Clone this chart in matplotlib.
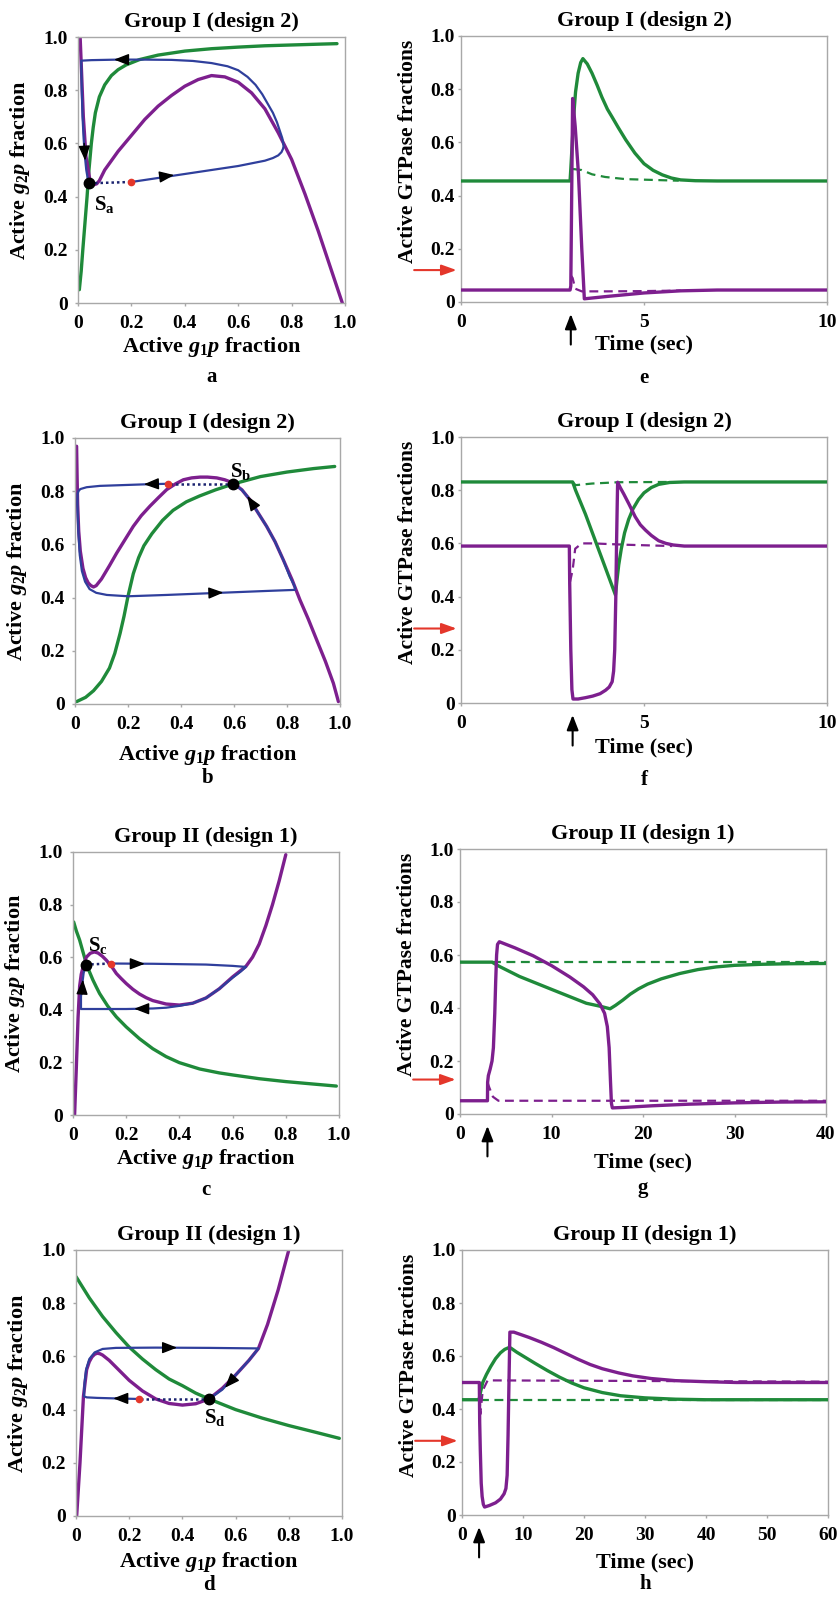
import matplotlib
matplotlib.use("Agg")
import matplotlib.pyplot as plt

plt.rcParams['font.family'] = ['Liberation Serif', 'DejaVu Serif']
plt.rcParams['font.weight'] = 'bold'
plt.rcParams['mathtext.fontset'] = 'custom'
plt.rcParams['mathtext.rm'] = 'Liberation Serif:bold'
plt.rcParams['mathtext.it'] = 'Liberation Serif:italic:bold'
plt.rcParams['mathtext.bf'] = 'Liberation Serif:bold'

GREEN = '#1f8a3a'
PURPLE = '#7d1f8e'
BLUE = '#2f3f9c'
NAVY = '#1c2470'
RED = '#e4372b'
SPINE = '#a8a8a8'

# ---------------- Panel a (phase plane, Group I design 2) ----------------
a_green_x = [0.005, 0.012, 0.018, 0.026, 0.034, 0.041, 0.05, 0.057, 0.065, 0.08, 0.1, 0.125, 0.15, 0.18, 0.23, 0.3, 0.4, 0.5, 0.6, 0.7, 0.8, 0.9, 0.97]
a_green_y = [0.05, 0.12, 0.2, 0.3, 0.4, 0.5, 0.6, 0.66, 0.715, 0.775, 0.82, 0.855, 0.877, 0.895, 0.915, 0.932, 0.947, 0.956, 0.962, 0.967, 0.97, 0.973, 0.975]
a_purple_x = [0.008, 0.012, 0.02, 0.03, 0.045, 0.06, 0.07, 0.08, 0.1, 0.15, 0.2, 0.25, 0.3, 0.35, 0.4, 0.45, 0.5, 0.55, 0.6, 0.65, 0.7, 0.75, 0.77, 0.8, 0.85, 0.9, 0.95, 0.99]
a_purple_y = [1.0, 0.9, 0.7, 0.55, 0.46, 0.445, 0.448, 0.46, 0.5, 0.57, 0.63, 0.69, 0.74, 0.78, 0.815, 0.84, 0.855, 0.85, 0.83, 0.79, 0.73, 0.64, 0.6, 0.54, 0.41, 0.27, 0.12, 0.0]
a_blue_x = [0.2, 0.3, 0.4, 0.5, 0.6, 0.7, 0.73, 0.75, 0.762, 0.768, 0.77, 0.765, 0.755, 0.745, 0.73, 0.71, 0.69, 0.665, 0.635, 0.6, 0.56, 0.5, 0.43, 0.35, 0.25, 0.15, 0.05, 0.012, 0.014, 0.017, 0.021, 0.026, 0.031, 0.037, 0.043]
a_blue_y = [0.455, 0.47, 0.485, 0.5, 0.515, 0.535, 0.545, 0.555, 0.567, 0.58, 0.59, 0.62, 0.65, 0.68, 0.715, 0.75, 0.785, 0.82, 0.85, 0.875, 0.89, 0.902, 0.91, 0.914, 0.915, 0.915, 0.913, 0.911, 0.8, 0.7, 0.62, 0.55, 0.5, 0.465, 0.45]
a_fixed = (0.043, 0.45)
a_kick = (0.2, 0.455)
a_arrows = [((0.33, 0.477), (0.36, 0.481)), ((0.165, 0.915), (0.135, 0.915)), ((0.023, 0.6), (0.027, 0.535))]
a_label = ('a', (0.06, 0.37))

# ---------------- Panel b ----------------
b_green_x = [0.006, 0.04, 0.07, 0.1, 0.13, 0.15, 0.17, 0.185, 0.2, 0.22, 0.24, 0.26, 0.29, 0.33, 0.37, 0.42, 0.47, 0.53, 0.6, 0.7, 0.8, 0.9, 0.98]
b_green_y = [0.009, 0.025, 0.05, 0.085, 0.135, 0.19, 0.265, 0.33, 0.405, 0.49, 0.55, 0.595, 0.64, 0.69, 0.728, 0.76, 0.782, 0.805, 0.828, 0.855, 0.872, 0.885, 0.893]
b_purple_x = [0.006, 0.008, 0.01, 0.014, 0.02, 0.03, 0.04, 0.05, 0.06, 0.07, 0.08, 0.1, 0.13, 0.157, 0.19, 0.22, 0.25, 0.283, 0.315, 0.346, 0.38, 0.409, 0.44, 0.472, 0.5, 0.535, 0.565, 0.597, 0.63, 0.66, 0.69, 0.723, 0.755, 0.786, 0.82, 0.849, 0.88, 0.912, 0.945, 0.975, 0.994]
b_purple_y = [0.969, 0.85, 0.75, 0.65, 0.575, 0.51, 0.475, 0.455, 0.445, 0.44, 0.445, 0.47, 0.52, 0.567, 0.62, 0.668, 0.708, 0.744, 0.776, 0.806, 0.828, 0.843, 0.85, 0.853, 0.853, 0.85, 0.843, 0.831, 0.805, 0.768, 0.72, 0.668, 0.61, 0.542, 0.465, 0.391, 0.32, 0.241, 0.16, 0.078, 0.009]
b_blue_x = [0.352, 0.27, 0.094, 0.044, 0.02, 0.013, 0.01, 0.009, 0.01, 0.013, 0.018, 0.026, 0.038, 0.055, 0.08, 0.12, 0.2, 0.346, 0.547, 0.723, 0.83, 0.83, 0.81, 0.786, 0.755, 0.723, 0.69, 0.66, 0.63, 0.597]
b_blue_y = [0.828, 0.826, 0.82, 0.815, 0.808, 0.8, 0.79, 0.76, 0.72, 0.64, 0.56, 0.5, 0.46, 0.432, 0.418, 0.41, 0.405, 0.41, 0.418, 0.425, 0.429, 0.44, 0.48, 0.542, 0.61, 0.668, 0.72, 0.768, 0.805, 0.828]
b_fixed = (0.597, 0.828)
b_kick = (0.352, 0.828)
b_arrows = [((0.29, 0.827), (0.26, 0.826)), ((0.53, 0.418), (0.56, 0.419)), ((0.67, 0.752), (0.65, 0.782))]
b_label = ('b', (0.585, 0.875))

# ---------------- Panel c ----------------
c_green_x = [0.0025, 0.0125, 0.025, 0.0375, 0.05, 0.0625, 0.075, 0.0875, 0.1, 0.13, 0.163, 0.2, 0.25, 0.3, 0.35, 0.4, 0.476, 0.55, 0.602, 0.7, 0.8, 0.9, 0.99]
c_green_y = [0.734, 0.7, 0.665, 0.62, 0.576, 0.543, 0.513, 0.487, 0.462, 0.415, 0.373, 0.335, 0.29, 0.252, 0.222, 0.199, 0.175, 0.16, 0.152, 0.138, 0.127, 0.118, 0.11]
c_purple_x = [0.006, 0.0125, 0.019, 0.025, 0.031, 0.038, 0.05, 0.065, 0.08, 0.094, 0.11, 0.125, 0.145, 0.163, 0.18, 0.2, 0.225, 0.25, 0.275, 0.3, 0.35, 0.4, 0.45, 0.5, 0.55, 0.6, 0.65, 0.675, 0.7, 0.725, 0.75, 0.775, 0.8]
c_purple_y = [0.0, 0.18, 0.37, 0.49, 0.535, 0.563, 0.6, 0.615, 0.62, 0.616, 0.604, 0.589, 0.565, 0.538, 0.52, 0.5, 0.478, 0.46, 0.446, 0.435, 0.422, 0.418, 0.425, 0.445, 0.48, 0.525, 0.565, 0.6, 0.65, 0.72, 0.8, 0.89, 0.99]
c_blue_x = [0.144, 0.3, 0.5, 0.6, 0.65, 0.63, 0.6, 0.55, 0.5, 0.45, 0.4, 0.35, 0.3, 0.2, 0.1, 0.03, 0.03, 0.035, 0.04, 0.048]
c_blue_y = [0.576, 0.575, 0.572, 0.567, 0.563, 0.545, 0.522, 0.48, 0.445, 0.425, 0.415, 0.408, 0.405, 0.403, 0.403, 0.403, 0.45, 0.5, 0.54, 0.572]
c_fixed = (0.048, 0.572)
c_kick = (0.144, 0.576)
c_arrows = [((0.24, 0.575), (0.27, 0.575)), ((0.26, 0.404), (0.23, 0.404)), ((0.034, 0.46), (0.037, 0.515))]
c_label = ('c', (0.055, 0.645))

# ---------------- Panel d ----------------
d_green_x = [0.0, 0.05, 0.1, 0.15, 0.2, 0.25, 0.3, 0.35, 0.4, 0.45, 0.5, 0.6, 0.7, 0.8, 0.9, 0.99]
d_green_y = [0.9, 0.82, 0.75, 0.69, 0.635, 0.59, 0.55, 0.515, 0.49, 0.462, 0.44, 0.4, 0.368, 0.34, 0.315, 0.292]
d_purple_x = [0.0025, 0.015, 0.028, 0.04, 0.05, 0.06, 0.07, 0.08, 0.09, 0.1, 0.125, 0.15, 0.175, 0.2, 0.25, 0.3, 0.35, 0.4, 0.45, 0.5, 0.55, 0.6, 0.65, 0.686, 0.72, 0.76, 0.8]
d_purple_y = [0.0, 0.2, 0.45, 0.55, 0.58, 0.598, 0.608, 0.612, 0.61, 0.605, 0.585, 0.56, 0.535, 0.51, 0.47, 0.44, 0.423, 0.417, 0.422, 0.44, 0.48, 0.53, 0.585, 0.63, 0.72, 0.85, 1.0]
d_blue_x = [0.235, 0.15, 0.08, 0.04, 0.03, 0.032, 0.038, 0.05, 0.07, 0.1, 0.15, 0.3, 0.5, 0.686, 0.65, 0.6, 0.55, 0.5]
d_blue_y = [0.44, 0.442, 0.444, 0.446, 0.45, 0.5, 0.55, 0.59, 0.615, 0.628, 0.632, 0.633, 0.632, 0.63, 0.585, 0.53, 0.475, 0.44]
d_fixed = (0.5, 0.44)
d_kick = (0.235, 0.44)
d_arrows = [((0.35, 0.633), (0.38, 0.633)), ((0.17, 0.442), (0.14, 0.442)), ((0.59, 0.515), (0.56, 0.482))]
d_label = ('d', (0.48, 0.37))

# ---------------- Panel e (time course) ----------------
e_green_t = [0, 2.98, 3.0, 3.04, 3.08, 3.13, 3.2, 3.27, 3.33, 3.45, 3.58, 3.72, 3.85, 4.0, 4.13, 4.3, 4.5, 4.75, 5.0, 5.25, 5.5, 5.75, 6.0, 6.4, 7.0, 10]
e_green_y = [0.455, 0.455, 0.5, 0.6, 0.7, 0.79, 0.86, 0.9, 0.915, 0.895, 0.86, 0.815, 0.77, 0.725, 0.695, 0.655, 0.61, 0.56, 0.52, 0.495, 0.478, 0.466, 0.459, 0.456, 0.455, 0.455]
e_green_dash_t = [3.06, 3.3, 3.58, 3.94, 4.49, 5.22, 5.95]
e_green_dash_y = [0.5, 0.496, 0.48, 0.47, 0.462, 0.459, 0.456]
e_purple_t = [0, 2.98, 3.0, 3.05, 3.12, 3.21, 3.3, 3.37, 4.0, 5.0, 6.0, 7.0, 10]
e_purple_y = [0.045, 0.045, 0.06, 0.765, 0.66, 0.48, 0.2, 0.012, 0.021, 0.034, 0.042, 0.045, 0.045]
e_purple_dash_t = [3.0, 3.05, 3.12, 3.3, 4.0, 5.0, 6.0]
e_purple_dash_y = [0.1, 0.09, 0.05, 0.04, 0.04, 0.041, 0.043]
e_stim = 3.0
e_red = 0.12

# ---------------- Panel f ----------------
f_green_t = [0, 3.05, 3.13, 3.40, 3.67, 3.94, 4.22, 4.26, 4.31, 4.38, 4.47, 4.58, 4.7, 4.85, 5.0, 5.2, 5.4, 5.7, 6.1, 10]
f_green_y = [0.831, 0.831, 0.80, 0.71, 0.61, 0.51, 0.406, 0.46, 0.52, 0.58, 0.64, 0.69, 0.73, 0.765, 0.79, 0.81, 0.822, 0.829, 0.831, 0.831]
f_green_dash_t = [3.05, 3.13, 3.58, 4.31, 5.77]
f_green_dash_y = [0.831, 0.819, 0.825, 0.83, 0.831]
f_purple_t = [0, 2.96, 2.97, 3.0, 3.03, 3.06, 3.2, 3.4, 3.6, 3.8, 3.95, 4.05, 4.13, 4.17, 4.2, 4.23, 4.25, 4.27, 4.28, 4.35, 4.45, 4.6, 4.76, 4.9, 5.04, 5.2, 5.4, 5.6, 5.8, 6.1, 10]
f_purple_y = [0.59, 0.59, 0.45, 0.2, 0.05, 0.015, 0.015, 0.02, 0.026, 0.035, 0.048, 0.06, 0.08, 0.12, 0.2, 0.4, 0.6, 0.76, 0.83, 0.81, 0.785, 0.745, 0.70, 0.67, 0.65, 0.63, 0.61, 0.6, 0.594, 0.59, 0.59]
f_purple_dash_t = [2.98, 3.05, 3.12, 3.3, 3.6, 4.5, 5.77]
f_purple_dash_y = [0.456, 0.5, 0.58, 0.6, 0.6, 0.595, 0.59]
f_stim = 3.05
f_red = 0.28

# ---------------- Panel g ----------------
g_green_t = [0, 3.5, 4.3, 6.5, 10.1, 13.8, 15.4, 16.4, 17.0, 17.8, 18.6, 19.5, 20.5, 22, 24, 26, 28, 30, 33, 36, 40]
g_green_y = [0.573, 0.573, 0.557, 0.519, 0.469, 0.418, 0.406, 0.397, 0.41, 0.43, 0.452, 0.472, 0.49, 0.51, 0.53, 0.545, 0.555, 0.561, 0.565, 0.567, 0.568]
g_green_dash_t = [3.5, 40]
g_green_dash_y = [0.573, 0.573]
g_purple_t = [0, 3.0, 3.02, 3.1, 3.3, 3.5, 3.65, 3.8, 3.9, 4.0, 4.1, 4.3, 6, 8, 10, 12, 13.5, 14.5, 15.3, 15.8, 16.1, 16.3, 16.45, 16.55, 16.65, 18, 21, 25, 30, 35, 40]
g_purple_y = [0.05, 0.05, 0.12, 0.145, 0.17, 0.2, 0.25, 0.38, 0.5, 0.6, 0.64, 0.65, 0.627, 0.597, 0.56, 0.517, 0.48, 0.45, 0.415, 0.38, 0.33, 0.25, 0.12, 0.04, 0.023, 0.025, 0.031, 0.037, 0.042, 0.045, 0.046]
g_purple_dash_t = [3.0, 3.2, 3.6, 4.2, 40]
g_purple_dash_y = [0.12, 0.1, 0.065, 0.05, 0.05]
g_stim = 3.0
g_red = 0.13

# ---------------- Panel h ----------------
h_green_t = [0, 2.8, 3.0, 3.4, 4.0, 4.7, 5.5, 6.3, 7.0, 7.6, 8.0, 9, 10, 12, 14, 16, 18, 20, 23, 26, 30, 35, 40, 60]
h_green_y = [0.435, 0.435, 0.46, 0.5, 0.53, 0.56, 0.59, 0.612, 0.625, 0.631, 0.63, 0.614, 0.6, 0.572, 0.545, 0.52, 0.498, 0.48, 0.462, 0.45, 0.442, 0.437, 0.435, 0.435]
h_green_dash_t = [3.0, 60]
h_green_dash_y = [0.435, 0.435]
h_purple_t = [0, 2.84, 2.9, 3.0, 3.15, 3.3, 3.5, 3.7, 4.5, 5.5, 6.3, 6.9, 7.2, 7.4, 7.55, 7.7, 7.85, 8.5, 11, 13, 15, 17, 19, 21, 23, 25.7, 28, 31, 35, 40, 45, 60]
h_purple_y = [0.5, 0.5, 0.35, 0.245, 0.12, 0.07, 0.04, 0.03, 0.036, 0.046, 0.06, 0.08, 0.1, 0.15, 0.3, 0.5, 0.69, 0.69, 0.67, 0.652, 0.632, 0.61, 0.588, 0.568, 0.552, 0.536, 0.525, 0.515, 0.507, 0.503, 0.5, 0.5]
h_purple_dash_t = [2.84, 3.0, 3.4, 4.2, 60]
h_purple_dash_y = [0.5, 0.38, 0.47, 0.508, 0.503]
h_stim = 2.8
h_red = 0.28

W, H = 838, 1597
fig = plt.figure(figsize=(W / 100, H / 100), dpi=100)


def add_ax(l, t, r, b):
    return fig.add_axes([l / W, 1 - b / H, (r - l) / W, (b - t) / H])


def style(ax, xlim, xticks, ylabel, xlabel, title, letter, ylab_xy, xlab_y, letter_y, ylab_size, ypad):
    ax.set_xlim(*xlim)
    ax.set_ylim(0, 1)
    for s in ax.spines.values():
        s.set_color(SPINE)
        s.set_linewidth(1.0)
    ax.set_xticks(xticks)
    ax.set_yticks([0, 0.2, 0.4, 0.6, 0.8, 1.0])
    ax.set_yticklabels(['0', '0.2', '0.4', '0.6', '0.8', '1.0'])
    ax.tick_params(direction='out', length=2.5, width=1, color=SPINE, labelsize=14)
    ax.tick_params(axis='x', pad=6)
    ax.tick_params(axis='y', pad=ypad)
    ax.set_title(title, fontsize=16, fontweight='bold', pad=7)
    ax.set_ylabel(ylabel, fontsize=ylab_size, fontweight='bold')
    ax.yaxis.set_label_coords(*ylab_xy)
    ax.set_xlabel(xlabel, fontsize=16, fontweight='bold')
    ax.xaxis.set_label_coords(0.5, xlab_y)
    ax.text(0.5, letter_y, letter, transform=ax.transAxes, ha='center', va='center',
            fontsize=15, fontweight='bold')


PH_Y = r'Active $g_2p$ fraction'
PH_X = r'Active $g_1p$ fraction'
TS_Y = 'Active GTPase fractions'
TS_X = 'Time (sec)'


def finish_ticks(ax, labels):
    ax.set_xticklabels(labels)
    for lab in ax.get_xticklabels() + ax.get_yticklabels():
        lab.set_fontweight('bold')


def phase(box, gx, gy, px, py, bx, by, fixed, kick, arrows, label, title, letter, letter_y, xlab_y):
    ax = add_ax(*box)
    ax.plot(gx, gy, color=GREEN, lw=2.4, solid_capstyle='round', solid_joinstyle='round', zorder=2)
    ax.plot(px, py, color=PURPLE, lw=2.4, solid_capstyle='round', solid_joinstyle='round', zorder=2)
    ax.plot(bx, by, color=BLUE, lw=1.6, solid_joinstyle='round', zorder=3)
    ax.plot([fixed[0], kick[0]], [fixed[1], kick[1]], color=NAVY, lw=1.8, ls=(0, (1, 1.2)), zorder=3)
    for (p0, p1) in arrows:
        ax.annotate('', xy=p1, xytext=p0,
                    arrowprops=dict(arrowstyle='-|>,head_length=0.9,head_width=0.35', color='black',
                                    lw=1.0, shrinkA=0, shrinkB=0), zorder=5)
    ax.plot([kick[0]], [kick[1]], 'o', color=RED, ms=4.5, zorder=5)
    ax.plot([fixed[0]], [fixed[1]], 'o', color='black', ms=7.5, zorder=6)
    sub, pos = label
    ax.text(pos[0], pos[1], r'$\mathrm{S_{%s}}$' % sub, fontsize=15, ha='left', va='center', zorder=6)
    ticks = [0, 0.2, 0.4, 0.6, 0.8, 1.0]
    style(ax, (0, 1), ticks, PH_Y, PH_X, title, letter, (-0.172, 0.5), xlab_y, letter_y, 16, 5)
    finish_ticks(ax, ['0', '0.2', '0.4', '0.6', '0.8', '1.0'])
    return ax


def timec(box, xmax, xticks, gt, gy, gdt, gdy, pt, py, pdt, pdy, stim, red, title, letter, letter_y, xlab_y):
    ax = add_ax(*box)
    ax.plot(gdt, gdy, color=GREEN, lw=1.6, ls=(0, (4, 2.5)), zorder=2)
    ax.plot(pdt, pdy, color=PURPLE, lw=1.6, ls=(0, (4, 2.5)), zorder=2)
    ax.plot(gt, gy, color=GREEN, lw=2.4, solid_joinstyle='round', zorder=3)
    ax.plot(pt, py, color=PURPLE, lw=2.4, solid_joinstyle='round', zorder=3)
    style(ax, (0, xmax), xticks, TS_Y, TS_X, title, letter, (-0.118, 0.565), xlab_y, letter_y, 15.5, 2)
    finish_ticks(ax, [str(v) for v in xticks])
    ax.annotate('', xy=(stim, -0.045), xytext=(stim, -0.16), xycoords=ax.get_xaxis_transform(),
                textcoords=ax.get_xaxis_transform(),
                arrowprops=dict(arrowstyle='-|>,head_length=0.9,head_width=0.35', color='black',
                                lw=1.5, shrinkA=0, shrinkB=0), annotation_clip=False)
    ax.annotate('', xy=(-0.012, red), xytext=(-0.128, red), xycoords=ax.get_yaxis_transform(),
                textcoords=ax.get_yaxis_transform(),
                arrowprops=dict(arrowstyle='-|>,head_length=0.9,head_width=0.32', color=RED,
                                lw=1.5, shrinkA=0, shrinkB=0), annotation_clip=False)
    return ax


phase((78, 37, 345, 303), a_green_x, a_green_y, a_purple_x, a_purple_y, a_blue_x, a_blue_y,
      a_fixed, a_kick, a_arrows, a_label, 'Group I (design 2)', 'a', -0.28, -0.12)
phase((75, 438, 340, 704), b_green_x, b_green_y, b_purple_x, b_purple_y, b_blue_x, b_blue_y,
      b_fixed, b_kick, b_arrows, b_label, 'Group I (design 2)', 'b', -0.28, -0.145)
phase((73, 852, 339, 1115), c_green_x, c_green_y, c_purple_x, c_purple_y, c_blue_x, c_blue_y,
      c_fixed, c_kick, c_arrows, c_label, 'Group II (design 1)', 'c', -0.285, -0.12)
phase((76, 1250, 342, 1516), d_green_x, d_green_y, d_purple_x, d_purple_y, d_blue_x, d_blue_y,
      d_fixed, d_kick, d_arrows, d_label, 'Group II (design 1)', 'd', -0.26, -0.128)

timec((461, 36, 827, 302), 10, [0, 5, 10], e_green_t, e_green_y, e_green_dash_t, e_green_dash_y,
      e_purple_t, e_purple_y, e_purple_dash_t, e_purple_dash_y, e_stim, e_red,
      'Group I (design 2)', 'e', -0.286, -0.124)
timec((461, 437, 827, 703), 10, [0, 5, 10], f_green_t, f_green_y, f_green_dash_t, f_green_dash_y,
      f_purple_t, f_purple_y, f_purple_dash_t, f_purple_dash_y, f_stim, f_red,
      'Group I (design 2)', 'f', -0.29, -0.13)
timec((460, 849, 826, 1114), 40, [0, 10, 20, 30, 40], g_green_t, g_green_y, g_green_dash_t, g_green_dash_y,
      g_purple_t, g_purple_y, g_purple_dash_t, g_purple_dash_y, g_stim, g_red,
      'Group II (design 1)', 'g', -0.28, -0.147)
timec((462, 1250, 828, 1515), 60, [0, 10, 20, 30, 40, 50, 60], h_green_t, h_green_y, h_green_dash_t, h_green_dash_y,
      h_purple_t, h_purple_y, h_purple_dash_t, h_purple_dash_y, h_stim, h_red,
      'Group II (design 1)', 'h', -0.26, -0.14)

fig.savefig('out.png', dpi=100)
